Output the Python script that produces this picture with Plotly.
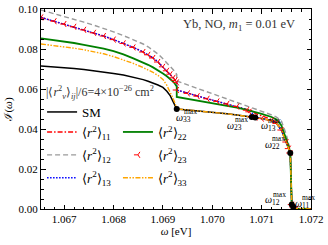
import plotly.graph_objects as go

# ---------------- data ----------------
OMEGA = [1.06653, 1.0668, 1.0670, 1.0672, 1.0674, 1.0676, 1.0678, 1.0680, 1.0682, 1.0684,
         1.0686, 1.0687, 1.0688, 1.0689, 1.0690, 1.06908, 1.06915, 1.06921, 1.06925, 1.06928,
         1.06928, 1.0695, 1.0697, 1.0699, 1.0701, 1.0703, 1.0705, 1.0707, 1.07075, 1.07080,
         1.07087, 1.0710, 1.0712, 1.0713, 1.0714, 1.0715, 1.07155, 1.07158, 1.07161, 1.07164,
         1.0717, 1.0720]

SM = [0.0715, 0.0711, 0.0707, 0.0703, 0.0698, 0.0692, 0.0686, 0.0678, 0.0670, 0.0660,
      0.0647, 0.0639, 0.0630, 0.0620, 0.0608, 0.0589, 0.0566, 0.0538, 0.0518, 0.0500,
      0.0500, 0.0495, 0.0491, 0.0487, 0.0482, 0.0476, 0.0470, 0.0464, 0.0462, 0.0460,
      0.0457, 0.0452, 0.0442, 0.0428, 0.0395, 0.0335, 0.0302, 0.0280, 0.0022, 0.0010,
      0.0002, 0.0]

R11 = [0.0958, 0.0939, 0.0925, 0.0911, 0.0896, 0.0881, 0.0865, 0.0847, 0.0828, 0.0808,
       0.0785, 0.0771, 0.0755, 0.0735, 0.0711, 0.0691, 0.0674, 0.0656, 0.0643, 0.0633,
       0.0595, 0.0578, 0.0564, 0.0551, 0.0538, 0.0525, 0.0512, 0.0498, 0.0495, 0.0491,
       0.0478, 0.0466, 0.0447, 0.0434, 0.0400, 0.0338, 0.0305, 0.0284, 0.0040, 0.0010,
       0.0002, 0.0]

R12 = [0.0995, 0.0977, 0.0963, 0.0949, 0.0934, 0.0919, 0.0903, 0.0886, 0.0867, 0.0847,
       0.0825, 0.0811, 0.0795, 0.0775, 0.0751, 0.0731, 0.0714, 0.0696, 0.0683, 0.0673,
       0.0640, 0.0621, 0.0603, 0.0585, 0.0567, 0.0549, 0.0531, 0.0514, 0.0510, 0.0506,
       0.0500, 0.0489, 0.0471, 0.0460, 0.0440, 0.0372, 0.0328, 0.0292, 0.0022, 0.0010,
       0.0002, 0.0]

R13 = [0.0958, 0.0939, 0.0925, 0.0911, 0.0896, 0.0881, 0.0865, 0.0847, 0.0828, 0.0808,
       0.0785, 0.0771, 0.0755, 0.0735, 0.0711, 0.0691, 0.0674, 0.0656, 0.0643, 0.0633,
       0.0595, 0.0578, 0.0564, 0.0551, 0.0538, 0.0525, 0.0512, 0.0497, 0.0490, 0.0482,
       0.0457, 0.0452, 0.0442, 0.0428, 0.0395, 0.0335, 0.0302, 0.0280, 0.0022, 0.0010,
       0.0002, 0.0]

R22 = [0.0853, 0.0845, 0.0838, 0.0830, 0.0821, 0.0812, 0.0802, 0.0789, 0.0773, 0.0753,
       0.0733, 0.0721, 0.0708, 0.0695, 0.0678, 0.0664, 0.0651, 0.0636, 0.0624, 0.0612,
       0.0560, 0.0551, 0.0543, 0.0535, 0.0526, 0.0517, 0.0507, 0.0496, 0.0493, 0.0490,
       0.0485, 0.0476, 0.0460, 0.0448, 0.0418, 0.0352, 0.0312, 0.0280, 0.0022, 0.0010,
       0.0002, 0.0]

R23 = [0.0958, 0.0939, 0.0925, 0.0911, 0.0896, 0.0881, 0.0865, 0.0847, 0.0828, 0.0808,
       0.0785, 0.0771, 0.0755, 0.0735, 0.0711, 0.0691, 0.0674, 0.0656, 0.0643, 0.0633,
       0.0595, 0.0578, 0.0564, 0.0551, 0.0538, 0.0525, 0.0512, 0.0494, 0.0486, 0.0460,
       0.0457, 0.0452, 0.0442, 0.0428, 0.0395, 0.0335, 0.0302, 0.0280, 0.0022, 0.0010,
       0.0002, 0.0]

R33 = [0.0825, 0.0818, 0.0812, 0.0804, 0.0796, 0.0786, 0.0776, 0.0762, 0.0745, 0.0728,
       0.0707, 0.0696, 0.0683, 0.0668, 0.0648, 0.0618, 0.0585, 0.0550, 0.0525, 0.0500,
       0.0500, 0.0495, 0.0491, 0.0487, 0.0482, 0.0476, 0.0470, 0.0464, 0.0462, 0.0460,
       0.0457, 0.0452, 0.0442, 0.0428, 0.0395, 0.0335, 0.0302, 0.0280, 0.0022, 0.0010,
       0.0002, 0.0]

# endpoints (omega_ij^max) marked with black dots
ENDPOINT_NAMES = ["33", "23", "13", "22", "12", "11"]
ENDPOINT_OMEGA = [1.06928, 1.07080, 1.07087, 1.07158, 1.07161, 1.07164]
ENDPOINT_VALUE = [0.0500, 0.0460, 0.0457, 0.0280, 0.0022, 0.0010]

X_TICKS = [1.067, 1.068, 1.069, 1.070, 1.071, 1.072]
Y_TICKS = [0.00, 0.02, 0.04, 0.06, 0.08, 0.10]

# ---------------- figure ----------------
FONT = "Liberation Serif"
fig = go.Figure()

def lbl(sub):
    return "⟨<i>r</i><sup>2</sup>⟩<sub>" + sub + "</sub>"

fig.add_trace(go.Scatter(x=OMEGA, y=SM, mode="lines", name="SM",
                         line=dict(color="black", width=1.5), legend="legend"))
fig.add_trace(go.Scatter(x=OMEGA, y=R11, mode="lines", name=lbl("11"), legendgroup="a",
                         line=dict(color="red", width=1.4, dash="5px,2px,1.5px,2px"), legend="legend2"))
fig.add_trace(go.Scatter(x=OMEGA, y=R12, mode="lines", name=lbl("12"), legendgroup="b",
                         line=dict(color="#9a9a9a", width=1.4, dash="5px,3px"), legend="legend2"))
fig.add_trace(go.Scatter(x=OMEGA, y=R13, mode="lines", name=lbl("13"), legendgroup="c",
                         line=dict(color="blue", width=1.4, dash="1.5px,1.5px"), legend="legend2"))
fig.add_trace(go.Scatter(x=OMEGA, y=R22, mode="lines", name=lbl("22"), legendgroup="d",
                         line=dict(color="green", width=1.8), legend="legend3"))
fig.add_trace(go.Scatter(x=OMEGA, y=R23, mode="markers", name=lbl("23"), legendgroup="e",
                         marker=dict(symbol="y-left", size=5, color="red",
                                     line=dict(color="red", width=1)), legend="legend3"))
fig.add_trace(go.Scatter(x=OMEGA, y=R33, mode="lines", name=lbl("33"), legendgroup="f",
                         line=dict(color="orange", width=1.4,
                                   dash="5px,1.5px,1.5px,1.5px,1.5px,1.5px"), legend="legend3"))
fig.add_trace(go.Scatter(x=ENDPOINT_OMEGA, y=ENDPOINT_VALUE, mode="markers", showlegend=False,
                         marker=dict(color="black", size=6)))

# endpoint labels: offsets (px) of the omega glyph from each dot
OFFS = {"33": (3, -8), "23": (-21, -8), "13": (9, -8), "22": (-22, 9), "12": (-23, 5), "11": (5, 4)}
ann = []
for name, xo, yo in zip(ENDPOINT_NAMES, ENDPOINT_OMEGA, ENDPOINT_VALUE):
    dx, dy = OFFS[name]
    ann.append(dict(x=xo, y=yo, xref="x", yref="y", text="<i>ω</i>", showarrow=False,
                    xshift=dx, yshift=dy, font=dict(size=10, family=FONT, color="black")))
    ann.append(dict(x=xo, y=yo, xref="x", yref="y", text="max", showarrow=False,
                    xshift=dx + 10.5, yshift=dy + 5.5, font=dict(size=7.5, family=FONT, color="black")))
    ann.append(dict(x=xo, y=yo, xref="x", yref="y", text=name, showarrow=False,
                    xshift=dx + 7.5, yshift=dy - 2.5, font=dict(size=7.5, family=FONT, color="black")))

ann.append(dict(x=0.948, y=0.92, xref="paper", yref="paper", xanchor="right", yanchor="middle",
                text="Yb, NO, <i>m</i><sub>1</sub> = 0.01 eV", showarrow=False,
                font=dict(size=12.5, family=FONT, color="#333")))
ann.append(dict(x=0.012, y=0.585, xref="paper", yref="paper", xanchor="left", yanchor="middle",
                text="|⟨<i>r</i><sup>2</sup><sub><i>ν</i></sub>⟩<sub><i>ij</i></sub>|/6=4×10<sup>−26</sup> cm<sup>2</sup>",
                showarrow=False, font=dict(size=12, family=FONT, color="#333")))

axis_common = dict(showline=True, linecolor="black", linewidth=1, mirror="allticks",
                   ticks="inside", ticklen=4.5, tickwidth=0.8, tickcolor="black",
                   showgrid=False, zeroline=False, automargin=False,
                   tickfont=dict(size=11, family=FONT, color="black"))

fig.update_layout(
    width=328, height=245,
    margin=dict(l=41, r=17, t=9, b=36, autoexpand=False),
    paper_bgcolor="white", plot_bgcolor="white",
    font=dict(family=FONT, color="black"),
    annotations=ann,
    xaxis=dict(range=[1.06653, 1.072], tickvals=X_TICKS, ticktext=[f"{v:.3f}" for v in X_TICKS],
               minor=dict(ticks="inside", dtick=0.0002, tick0=1.067, ticklen=2.5, tickwidth=0.7,
                          tickcolor="black"),
               title=dict(text="<i>ω</i> [eV]", font=dict(size=11, family=FONT), standoff=1),
               **axis_common),
    yaxis=dict(range=[0, 0.1], tickvals=Y_TICKS, ticktext=[f"{v:.2f}" for v in Y_TICKS],
               minor=dict(ticks="inside", dtick=0.005, tick0=0, ticklen=2.5, tickwidth=0.7,
                          tickcolor="black"),
               title=dict(text="ℐ(<i>ω</i>)", font=dict(size=11, family=FONT), standoff=3),
               **axis_common),
    legend=dict(x=0.004, y=0.56, xanchor="left", yanchor="top", bgcolor="rgba(0,0,0,0)",
                font=dict(size=13, family=FONT), tracegroupgap=3),
    legend2=dict(x=0.004, y=0.46, xanchor="left", yanchor="top", bgcolor="rgba(0,0,0,0)",
                 font=dict(size=13, family=FONT), tracegroupgap=3),
    legend3=dict(x=0.285, y=0.46, xanchor="left", yanchor="top", bgcolor="rgba(0,0,0,0)",
                 font=dict(size=13, family=FONT), tracegroupgap=3),
)

fig.write_html("out.html", config={"displayModeBar": False},
               post_script="document.body.style.margin='0';document.body.style.overflow='hidden';")
